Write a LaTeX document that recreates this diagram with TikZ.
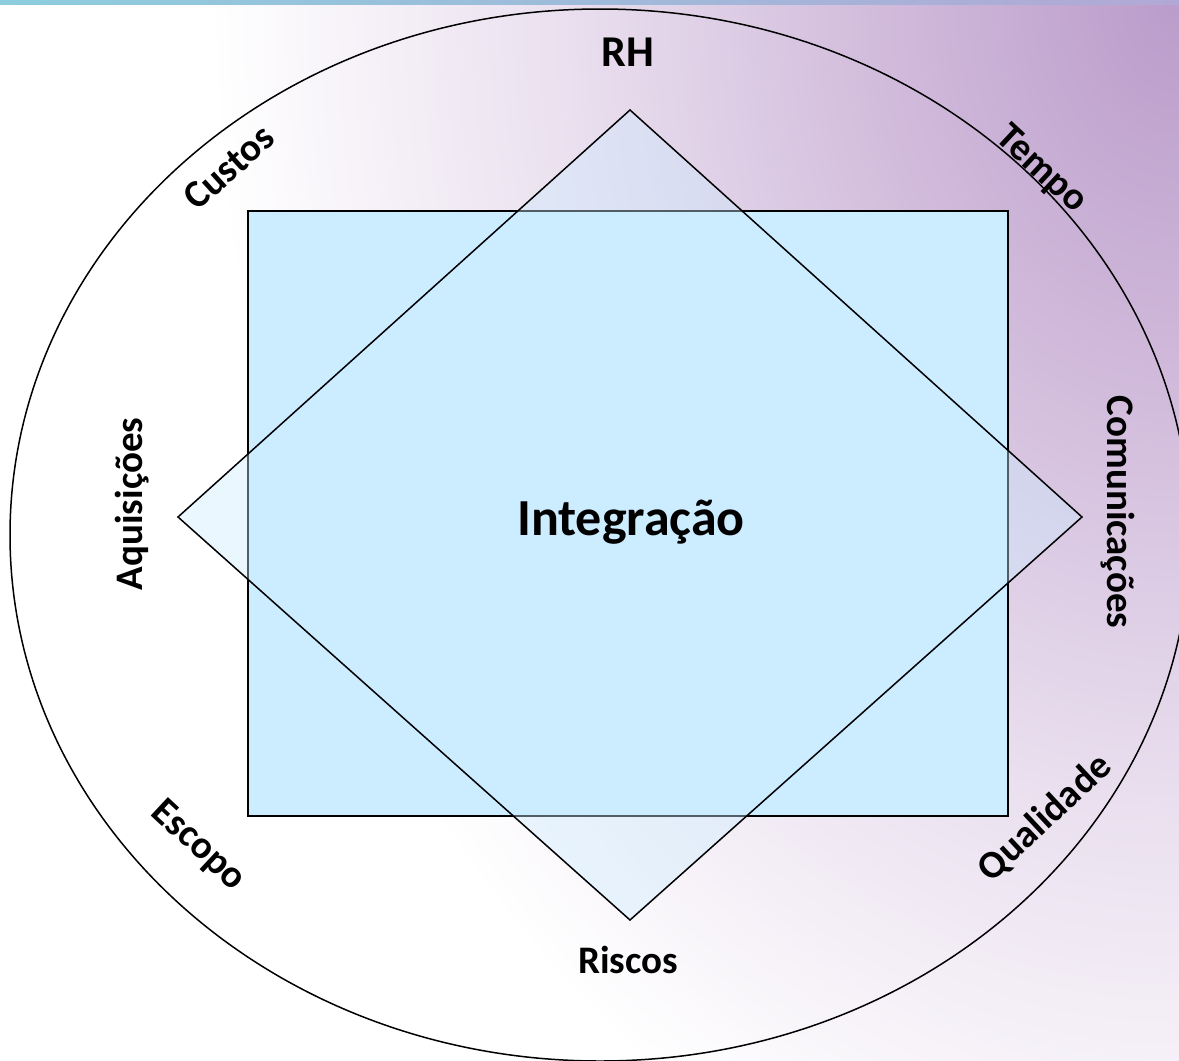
\documentclass[tikz,border=0pt]{standalone}
\usepackage{fontspec}
\setmainfont{Carlito}
\definecolor{bgA}{RGB}{186,156,202}
\definecolor{bgB}{RGB}{210,188,220}
\definecolor{bgC}{RGB}{234,224,239}
\definecolor{rectblue}{RGB}{204,236,255}
\definecolor{stripL}{RGB}{140,205,222}
\definecolor{stripR}{RGB}{178,168,214}
\pgfdeclareradialshading{bgshade}{\pgfpoint{0bp}{0bp}}{color(0bp)=(bgA); color(3.5bp)=(bgB); color(7bp)=(bgC); color(11bp)=(white); color(50bp)=(white)}
\tikzset{
  lbl/.style={font=\bfseries\fontsize{39}{40}\selectfont, inner sep=0pt},
  bigl/.style={font=\bfseries\fontsize{52}{54}\selectfont, inner sep=0pt},
  outline/.style={draw=black, line width=1.5pt},
}
\begin{document}
\begin{tikzpicture}[x=1pt, y=-1pt]
\useasboundingbox (0,0) rectangle (1179,1061);
\begin{scope}
  \clip (0,0) rectangle (1179,1061);
  \fill[white] (0,0) rectangle (1179,1061);
  \shade[shading=bgshade] (1179,0) ellipse [x radius=2200pt, y radius=2900pt];
  \shade[left color=stripL, right color=stripR] (0,0) rectangle (1179,4);
  % outer ellipse
  \draw[outline] (600,535) ellipse [x radius=590pt, y radius=526pt];
\end{scope}
% square
\draw[fill=rectblue, draw=black, line width=2pt] (248,211) rectangle (1008,816);
% diamond (semi-transparent, on top)
\fill[rectblue, fill opacity=0.4] (630,110) -- (1082,517) -- (630,920) -- (178,517) -- cycle;
\draw[outline] (630,110) -- (1082,517) -- (630,920) -- (178,517) -- cycle;
% labels
\node[bigl] (integ) at (631,522) {Integração};
\node[lbl, font=\bfseries\fontsize{44}{46}\selectfont] (rh) at (628,52) {RH};
\node[lbl, rotate=42] (custos) at (229,167) {Custos};
\node[lbl, rotate=-43] (tempo) at (1041,170) {Tempo};
\node[lbl, rotate=-90] (comun) at (1118,512) {Comunicações};
\node[lbl, rotate=90] (aquis) at (132,504) {Aquisições};
\node[lbl, rotate=-43] (escopo) at (198,846) {Escopo};
\node[lbl, rotate=43] (qual) at (1045,818) {Qualidade};
\node[lbl] (riscos) at (628,960) {Riscos};
\end{tikzpicture}
\end{document}
